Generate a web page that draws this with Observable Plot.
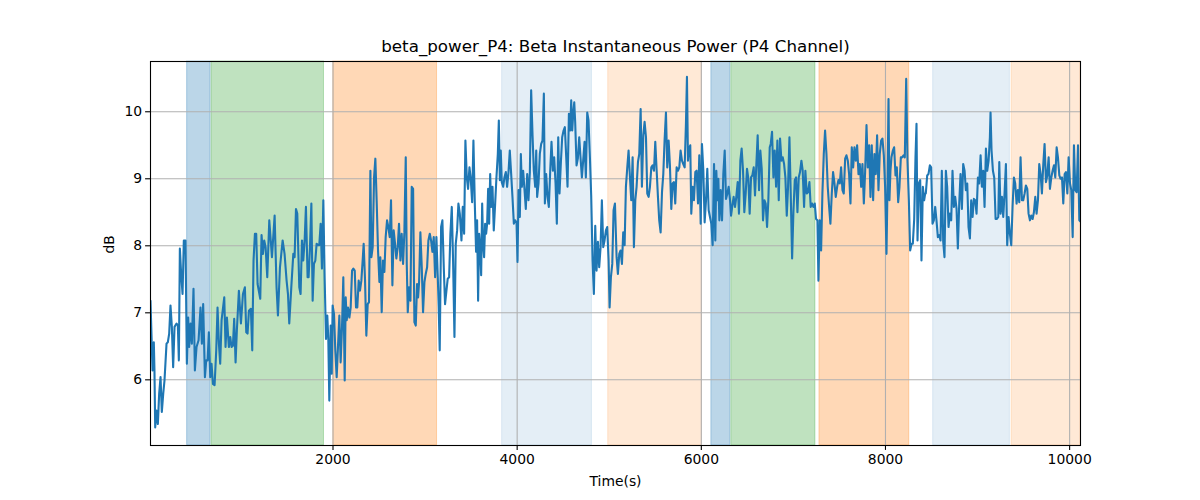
<!DOCTYPE html>
<html><head><meta charset="utf-8">
<script src="https://cdn.jsdelivr.net/npm/d3@7"></script>
<script src="https://cdn.jsdelivr.net/npm/@observablehq/plot@0.6"></script>
<style>body{margin:0;background:#fff;font-family:"DejaVu Sans",sans-serif}</style>
</head><body><div id="chart"></div>
<script>
const chartTitle = "beta_power_P4: Beta Instantaneous Power (P4 Channel)";
const xLabel = "Time(s)";
const yLabel = "dB";
const xTicks = [2000, 4000, 6000, 8000, 10000];
const yTicks = [6, 7, 8, 9, 10];

const timeSec = [
18,40,54,61,69,83,98,112,127,141,
156,170,192,206,221,235,250,264,279,301,
315,326,337,351,366,380,398,413,427,438,
453,467,485,500,518,540,561,576,590,609,
623,638,652,667,681,696,714,732,746,761,
775,790,819,833,848,869,884,898,913,927,
942,956,978,1000,1022,1043,1058,1072,1087,1108,
1123,1137,1152,1166,1181,1210,1224,1239,1253,1268,
1286,1308,1337,1366,1387,1402,1424,1453,1474,1496,
1511,1525,1547,1569,1583,1598,1612,1634,1648,1663,
1677,1692,1706,1724,
1735,1750,1765,1779,1793,1808,1822,1837,1851,1866,
1880,1895,1909,1924,1938,1949,1960,1975,1986,1996,
2011,2025,2040,2054,2069,2083,2098,2112,2127,2138,
2149,2163,2178,2192,2207,2221,2236,2250,2264,2279,
2293,2308,2322,2333,2348,2362,2377,2391,2406,2417,
2431,2446,2460,2475,2489,2504,2514,2529,2543,2558,
2572,2587,2601,2616,2630,2645,2659,2674,2688,2703,
2717,2732,2746,2761,2775,2790,2801,2812,2826,2841,
2855,2870,2884,2899,2913,2924,2935,2949,2964,2978,
2993,3007,3022,3036,3051,3065,3080,3094,3109,3123,
3138,3148,3159,3174,3188,3203,3217,3232,3246,3261,
3275,3290,3304,3319,3333,3348,3362,3377,
3395,3409,3424,3438,3453,3467,3482,3496,3511,3525,
3540,3554,3565,3576,3587,3598,3609,3620,3630,3641,
3652,3663,3674,3685,3696,3707,3717,3732,3746,3761,
3775,3790,3801,3812,3822,3833,3848,3862,3877,3891,
3906,3920,3935,3949,3964,3978,3993,4004,4015,4029,
4040,4051,4065,4080,4094,4109,4123,4138,4152,4167,
4181,4196,4207,4217,4232,4246,4261,4275,4290,4301,
4315,4330,4344,4359,4373,4388,4402,4417,4431,4446,
4460,4475,4489,4504,4518,4533,4547,4562,4576,4587,
4598,4609,4620,4630,4645,4659,4674,4688,4703,4717,
4732,4746,4761,4775,4790,4804,4819,4833,4848,4862,
4877,4891,4906,4920,4935,4949,4964,4978,4993,5004,
5018,5033,5047,5062,
5080,5094,5109,5123,5138,5152,5167,5181,5196,5210,
5225,5239,5254,5268,5283,5297,5312,5326,5341,5355,
5370,5384,5399,5413,5428,5442,5457,5471,5486,5500,
5515,5529,5543,5558,5573,5587,5601,5616,5630,5645,
5659,5674,5688,5703,5717,5732,5746,5761,5775,5790,
5804,5819,5833,5844,5855,5866,5880,5891,5906,5920,
5935,5949,5964,5978,5993,6007,6022,6036,6051,6065,
6080,6094,6109,6123,6138,6152,6163,6174,6185,6196,
6210,6225,6239,6254,6268,6283,6297,6312,6323,6337,
6351,6366,6380,6395,6409,6424,6438,6453,6467,6482,
6496,6511,6525,6540,6554,6569,6583,6598,6612,6627,
6641,6656,6670,6685,6699,6714,6728,6743,
6754,6768,6783,6797,6812,6826,6841,6855,6870,6884,
6899,6913,6928,6942,6957,6971,6986,7000,7015,7029,
7044,7058,7072,7087,7101,7116,7130,7145,7159,7174,
7188,7203,7217,7232,7246,7261,7272,7286,7301,7315,
7330,7344,7359,7373,7388,7402,7417,7431,7446,7460,
7475,7489,7504,7518,7533,7547,7562,7576,7591,7605,
7620,7634,7649,7663,7678,7692,7707,7721,7736,7750,
7765,7779,7794,7808,7823,7837,7851,7866,7880,7895,
7909,7924,7938,7953,7967,7982,7996,8011,8022,8033,
8043,8054,8065,8080,8094,8109,8123,8138,8152,8167,
8181,8196,8210,8225,8239,8254,8268,8283,8297,8312,
8326,8337,8348,8362,8377,8391,8406,8420,8431,
8438,8453,8467,8482,8496,8511,8525,8540,8554,8569,
8583,8598,8612,8627,8641,8656,8670,8685,8699,8714,
8728,8743,8757,8772,8786,8801,8815,8830,8844,8859,
8873,8888,8902,8917,8931,8946,8960,8975,8989,9004,
9018,9033,9047,9062,9076,9091,9105,9120,9134,9141,
9152,9167,9181,9196,9210,9225,9236,9250,9265,9279,
9293,9308,9322,9337,9351,9366,9380,9395,9409,9424,
9438,9453,9467,9482,9496,9511,9525,9540,9554,9569,
9583,9598,9612,9627,9641,9656,9670,9685,9699,9714,
9728,9743,9757,9772,9786,9801,9815,9830,9844,9859,
9873,9888,9902,9917,9931,9946,9960,9975,9989,10004,
10018,10033,10047,10062,10076,10091,10105,10118
];

const powerDb = [
7.18,6.14,6.56,6.14,5.29,5.54,5.34,5.79,6.04,5.52,
5.79,5.99,6.54,6.56,6.69,7.11,6.79,6.19,6.79,6.84,
6.81,6.29,7.96,7.58,7.28,8.08,8.08,6.24,6.93,6.49,
6.84,6.54,7.36,6.14,6.49,6.59,7.08,6.54,7.13,6.04,
6.29,6.29,6.71,6.04,6.24,5.94,5.92,6.44,7.08,6.54,
6.24,6.89,7.23,6.49,6.93,6.49,6.64,6.49,6.51,6.91,
6.26,6.74,7.33,6.84,7.28,7.38,6.71,6.69,7.03,7.06,
6.44,7.78,8.18,8.18,7.43,7.21,8.16,7.88,8.08,7.98,
7.53,8.38,7.83,8.45,7.38,6.96,7.68,8.08,7.88,7.48,
7.28,6.84,7.38,7.88,7.83,8.55,8.48,7.38,7.28,8.08,
7.78,8.08,8.58,7.53,
7.53,7.98,8.63,7.18,7.73,7.78,8.03,8.01,8.01,8.33,
7.66,8.68,7.53,6.61,6.96,6.61,5.69,6.81,6.09,7.11,
6.98,6.44,6.04,6.49,6.96,6.26,6.79,7.53,5.99,7.23,
6.89,7.08,6.93,7.08,7.63,7.66,7.63,7.08,7.08,7.48,
7.33,7.48,7.78,8.03,7.48,6.66,7.13,7.16,9.12,7.83,
7.98,9.02,9.30,8.63,7.93,7.46,7.83,7.01,7.78,7.61,
8.13,8.38,8.28,8.13,8.68,7.41,8.23,8.03,7.81,7.98,
8.33,7.78,8.18,7.73,8.20,9.32,7.73,7.01,7.38,7.18,
8.88,8.85,6.86,6.81,7.43,7.23,7.46,8.20,7.68,7.01,
7.46,7.58,7.68,8.08,8.18,8.08,7.91,8.13,7.53,8.13,
7.53,7.08,6.44,8.28,8.38,7.68,7.13,7.33,7.51,7.53,
8.18,8.58,7.78,6.64,8.03,8.23,8.63,8.48,
8.08,8.58,8.18,9.57,9.02,8.85,9.17,9.00,8.65,9.57,
8.63,7.91,8.38,7.18,8.18,7.98,7.56,8.63,8.03,7.83,
8.33,8.18,8.33,8.85,8.33,9.07,8.58,8.88,8.23,8.63,
9.02,9.37,9.87,8.98,9.42,8.95,8.88,9.02,9.10,8.88,
9.10,9.42,9.07,8.73,8.33,8.38,8.35,7.76,8.83,8.43,
9.37,8.88,9.12,8.83,8.55,9.07,8.68,9.10,10.32,9.65,
9.12,8.88,9.42,8.73,8.93,9.37,9.52,9.57,10.27,8.63,
9.07,8.73,8.58,9.12,9.55,9.12,9.32,8.93,8.33,9.62,
8.78,9.25,9.62,9.72,9.77,9.32,8.88,9.97,9.72,10.17,
9.72,9.97,10.14,9.85,9.20,9.30,9.62,9.32,9.02,9.27,
9.55,9.02,9.99,9.87,9.32,8.75,7.78,7.28,8.30,7.63,
8.06,7.68,7.98,8.68,7.98,8.08,8.23,8.28,7.78,7.08,
7.53,7.73,8.53,8.63,
7.83,7.58,7.88,7.93,7.73,8.20,8.01,8.88,9.17,9.42,
9.02,8.68,9.32,7.98,8.68,8.88,9.25,9.37,10.04,8.88,
9.65,9.85,9.62,8.78,8.73,8.88,9.17,9.20,9.12,9.55,
9.12,8.73,8.38,8.20,8.80,9.07,9.57,9.99,9.17,9.57,
9.20,8.55,8.93,8.95,8.63,9.17,9.12,9.17,9.42,9.27,
9.22,9.17,9.82,10.52,9.27,9.45,9.50,8.48,8.88,8.68,
9.10,9.12,8.63,9.35,8.33,9.52,9.12,8.35,8.68,9.15,
8.53,8.43,8.33,8.01,9.22,8.08,9.12,8.68,9.00,8.38,
8.83,8.38,9.07,9.42,8.70,8.78,8.88,8.68,8.45,8.60,
8.73,8.58,8.73,8.95,8.48,9.27,9.45,9.12,8.50,8.78,
9.15,9.00,8.48,9.02,9.05,9.17,8.75,9.22,9.65,8.83,
9.42,9.15,8.38,8.68,8.63,8.28,8.68,9.47,
9.52,9.70,9.02,9.42,8.88,9.57,8.68,9.60,9.27,9.32,
9.22,9.02,8.45,8.88,9.62,8.78,7.81,8.50,8.98,9.02,
8.50,9.02,9.10,9.27,9.12,8.58,9.12,8.78,8.80,8.95,
8.58,8.63,8.58,8.63,8.40,8.38,7.48,8.38,7.93,8.78,
9.37,9.72,9.37,8.88,8.58,8.33,8.78,9.10,8.93,8.73,
8.88,8.98,8.93,9.17,8.83,8.78,9.30,9.35,9.27,9.07,
8.63,9.47,9.17,9.47,9.27,9.50,9.07,9.22,8.88,9.22,
8.63,9.10,9.80,9.17,9.50,8.73,9.50,8.68,9.37,9.07,
9.65,8.83,9.37,9.57,9.60,9.35,8.88,7.88,8.88,10.19,
8.68,9.12,9.32,9.42,9.47,9.05,9.17,8.65,8.88,9.32,
9.32,9.35,9.32,10.49,9.27,8.68,7.93,8.03,8.03,8.40,
9.32,9.82,8.08,8.93,8.98,7.78,8.88,8.68,8.78,
8.78,9.05,9.07,9.20,9.17,8.33,8.38,8.58,8.38,8.13,
8.16,8.08,9.12,8.06,7.83,9.12,8.88,8.28,8.48,8.38,
9.12,8.58,8.73,8.55,7.96,8.63,9.07,8.55,9.22,9.12,
8.83,8.93,8.28,8.11,8.68,8.43,8.70,8.68,8.48,9.02,
8.93,9.35,8.88,9.12,8.58,9.45,9.12,9.27,9.62,9.99,
9.42,9.12,9.02,8.40,8.40,8.43,9.25,8.48,8.73,8.43,
8.78,9.22,8.01,8.43,8.18,8.01,8.58,9.02,8.93,8.63,
8.83,8.65,9.32,8.68,8.68,8.78,8.90,8.85,8.48,8.38,
8.45,8.40,8.50,8.73,8.48,8.68,9.22,9.07,8.78,9.22,
9.52,8.95,9.05,9.32,8.85,9.02,9.12,9.20,9.02,9.47,
9.32,9.05,9.00,9.02,8.63,9.07,9.10,8.78,9.32,8.93,
8.83,8.13,9.50,8.83,8.80,9.50,8.38,8.36
];

const bandStart = [416, 681, 2004, 3837, 4989, 6109, 6326, 7283, 8518, 9370];
const bandEnd   = [670, 1902, 3130, 4812, 6007, 6315, 7239, 8258, 9351, 10118];
const bandKind  = ["blue", "green", "orange", "lightblue", "lightorange",
                   "blue", "green", "orange", "lightblue", "lightorange"];

const bandColor = {blue: "#1f77b4", green: "#2ca02c", orange: "#ff7f0e", lightblue: "#1f77b4", lightorange: "#ff7f0e"};
const bandAlpha = {blue: 0.3, green: 0.3, orange: 0.3, lightblue: 0.12, lightorange: 0.17};

const n = Math.min(timeSec.length, powerDb.length);
const series = d3.range(n).map(i => ({t: timeSec[i], v: powerDb[i]}));
const bands = bandStart.map((s, i) => ({s, e: bandEnd[i], k: bandKind[i]}));

const bandMarks = Object.keys(bandColor).map(k =>
  Plot.rect(bands.filter(d => d.k === k), {
    x1: "s", x2: "e",
    fill: bandColor[k], fillOpacity: bandAlpha[k],
    stroke: bandColor[k], strokeOpacity: bandAlpha[k], strokeWidth: 1
  })
);

const chart = Plot.plot({
  width: 1200, height: 500,
  marginLeft: 150, marginRight: 120, marginTop: 61, marginBottom: 55,
  style: {fontFamily: "'DejaVu Sans', sans-serif", fontSize: "13.9px", background: "white", color: "black", overflow: "visible"},
  x: {domain: [18, 10118], axis: null},
  y: {domain: [5.02, 10.75], axis: null},
  marks: [
    ...bandMarks,
    Plot.gridX(xTicks, {stroke: "#b0b0b0", strokeOpacity: 1, strokeWidth: 1.1}),
    Plot.gridY(yTicks, {stroke: "#b0b0b0", strokeOpacity: 1, strokeWidth: 1.1}),
    Plot.line(series, {x: "t", y: "v", stroke: "#1f77b4", strokeWidth: 2.1, clip: true}),
    Plot.frame({stroke: "black", strokeWidth: 1.1}),
    Plot.axisX(xTicks, {tickSize: 4.9, tickPadding: 3.5, tickFormat: "d", fontSize: 13.9, label: null, stroke: "black", strokeWidth: 1.1}),
    Plot.axisY(yTicks, {tickSize: 4.9, tickPadding: 3.5, tickFormat: "d", fontSize: 13.9, label: null, stroke: "black", strokeWidth: 1.1}),
    Plot.text([chartTitle], {text: d => d, frameAnchor: "top", dy: -15, fontSize: 16.7, lineAnchor: "middle"}),
    Plot.text([xLabel], {text: d => d, frameAnchor: "bottom", dy: 36, fontSize: 13.9, lineAnchor: "middle"}),
    Plot.text([yLabel], {text: d => d, frameAnchor: "left", dx: -41, rotate: -90, fontSize: 13.9, lineAnchor: "middle"})
  ]
});
document.getElementById("chart").appendChild(chart);
</script>
</body></html>
